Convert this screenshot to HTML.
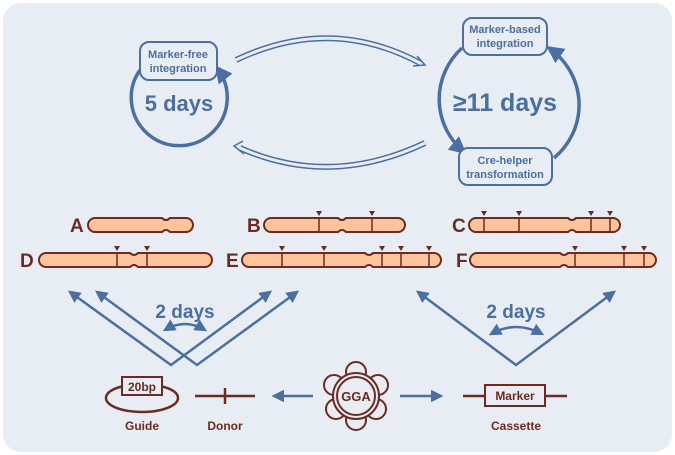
<!DOCTYPE html>
<html><head><style>body{margin:0;background:#fff}svg{display:block}text{font-family:"Liberation Sans",sans-serif;font-weight:bold}</style></head><body>
<svg width="675" height="455" viewBox="0 0 675 455" xmlns="http://www.w3.org/2000/svg">
<defs>
<marker id="ah" viewBox="0 0 10 10" refX="8" refY="5" markerWidth="5" markerHeight="5" orient="auto-start-reverse"><path d="M0,0L10,5L0,10z" fill="#4a6fa0"/></marker>
</defs>
<rect x="3" y="3" width="669" height="449" rx="18" fill="#e8edf4"/>
<g fill="none" stroke="#4a6fa0">
<!-- left cycle -->
<path d="M140,70 A48,48 0 1 0 217,68" stroke-width="3.5" marker-end="url(#ah)"/>
<!-- right cycle -->
<path d="M462,48 A72,70 0 0 0 464,152" stroke-width="3.5" marker-end="url(#ah)"/>
<path d="M554,158 A72,70 0 0 0 549,48" stroke-width="3.5" marker-end="url(#ah)"/>
<!-- hollow double arrows -->
<path d="M236,60 Q330,15 420,63" stroke-width="6"/>
<path d="M236,60 Q330,15 420,63" stroke="#e8edf4" stroke-width="3"/>
<path d="M417,56 L425,65 L413,66" stroke-width="1.5"/>
<path d="M425,143 Q330,188 240,148" stroke-width="6"/>
<path d="M425,143 Q330,188 240,148" stroke="#e8edf4" stroke-width="3"/>
<path d="M243,141 L234,146 L244,154" stroke-width="1.5"/>
</g>
<g fill="#e8edf4" stroke="#4a6fa0" stroke-width="2">
<rect x="140" y="42" width="77" height="38" rx="9"/>
<rect x="463" y="18" width="84" height="37" rx="9"/>
<rect x="459" y="148" width="93" height="37" rx="9"/>
</g>
<g fill="#4a6fa0" text-anchor="middle" font-size="11">
<text x="178" y="58">Marker-free</text><text x="178" y="72">integration</text>
<text x="505" y="33">Marker-based</text><text x="505" y="47">integration</text>
<text x="505" y="164">Cre-helper</text><text x="505" y="178">transformation</text>
<text x="179" y="111" font-size="22">5 days</text>
<text x="505" y="111" font-size="25">≥11 days</text>
<text x="185" y="318" font-size="19">2 days</text>
<text x="516" y="318" font-size="19">2 days</text>
</g>
<!-- chromosomes -->
<g id="chr" stroke="#6b2a22" stroke-width="2" fill="#fbc49a">
<path d="M95,218 H162 Q166,222 170,218 H186 A7,7 0 0 1 186,232 H170 Q166,228 162,232 H95 A7,7 0 0 1 95,218Z"/>
<path d="M271,218 H338 Q342,222 346,218 H398 A7,7 0 0 1 398,232 H346 Q342,228 338,232 H271 A7,7 0 0 1 271,218Z"/>
<path d="M476,218 H568 Q572,222 576,218 H613 A7,7 0 0 1 613,232 H576 Q572,228 568,232 H476 A7,7 0 0 1 476,218Z"/>
<path d="M46,253 H130 Q134,257 138,253 H205 A7,7 0 0 1 205,267 H138 Q134,263 130,267 H46 A7,7 0 0 1 46,253Z"/>
<path d="M249,253 H365 Q369,257 373,253 H434 A7,7 0 0 1 434,267 H373 Q369,263 365,267 H249 A7,7 0 0 1 249,253Z"/>
<path d="M477,253 H560 Q564,257 568,253 H649 A7,7 0 0 1 649,267 H568 Q564,263 560,267 H477 A7,7 0 0 1 477,253Z"/>
</g>
<g stroke="#6b2a22" stroke-width="1.5">
<path d="M319,218V232M372,218V232M484,218V232M519,218V232M591,218V232M610,218V232M117,253V267M147,253V267M282,253V267M324,253V267M382,253V267M401,253V267M429,253V267M575,253V267M624,253V267M644,253V267"/>
</g>
<g fill="#6b2a22">
<path d="M316,211h6l-3,5zM369,211h6l-3,5zM481,211h6l-3,5zM516,211h6l-3,5zM588,211h6l-3,5zM607,211h6l-3,5zM114,246h6l-3,5zM144,246h6l-3,5zM279,246h6l-3,5zM321,246h6l-3,5zM379,246h6l-3,5zM398,246h6l-3,5zM426,246h6l-3,5zM572,246h6l-3,5zM621,246h6l-3,5zM641,246h6l-3,5z"/>
</g>
<g fill="#6b2a22" font-size="19">
<text x="70" y="232">A</text><text x="247" y="232">B</text><text x="452" y="232">C</text>
<text x="20" y="267">D</text><text x="226" y="267">E</text><text x="456" y="267">F</text>
</g>
<!-- V arrows -->
<g fill="none" stroke="#4a6fa0" stroke-width="2.5">
<path d="M70,292 L171,365 L270,292" marker-start="url(#ah)" marker-end="url(#ah)"/>
<path d="M97,292 L197,365 L297,292" marker-start="url(#ah)" marker-end="url(#ah)"/>
<path d="M418,292 L516,365 L614,292" marker-start="url(#ah)" marker-end="url(#ah)"/>
<path d="M165,330 Q185,318 205,330" marker-start="url(#ah)" marker-end="url(#ah)"/>
<path d="M491,334 Q516,320 542,334" marker-start="url(#ah)" marker-end="url(#ah)"/>
<path d="M313,396 H274" marker-end="url(#ah)"/>
<path d="M400,396 H441" marker-end="url(#ah)"/>
</g>
<!-- bottom elements -->
<g stroke="#6b2a22" stroke-width="2.5" fill="none">
<ellipse cx="142" cy="398" rx="36" ry="14"/>
<path d="M195,396H255M225,388V404M463,396H567"/>
</g>
<rect x="122" y="377" width="40" height="18" fill="#e8edf4" stroke="#6b2a22" stroke-width="2"/>
<rect x="485" y="385" width="60" height="21" fill="#e8edf4" stroke="#6b2a22" stroke-width="2"/>
<g stroke="#6b2a22" stroke-width="2" fill="#e8edf4">
<circle cx="356" cy="372" r="10"/><circle cx="378" cy="385" r="10"/><circle cx="376" cy="409" r="10"/>
<circle cx="356" cy="420" r="10"/><circle cx="336" cy="409" r="10"/><circle cx="334" cy="385" r="10"/>
<circle cx="356" cy="396" r="23"/>
<circle cx="356" cy="396" r="19"/>
</g>
<g fill="#6b2a22" text-anchor="middle">
<text x="142" y="391" font-size="12">20bp</text>
<text x="515" y="400" font-size="12">Marker</text>
<text x="356" y="401" font-size="13">GGA</text>
<text x="142" y="430" font-size="12">Guide</text>
<text x="225" y="430" font-size="12">Donor</text>
<text x="516" y="430" font-size="12">Cassette</text>
</g>
</svg>
</body></html>
